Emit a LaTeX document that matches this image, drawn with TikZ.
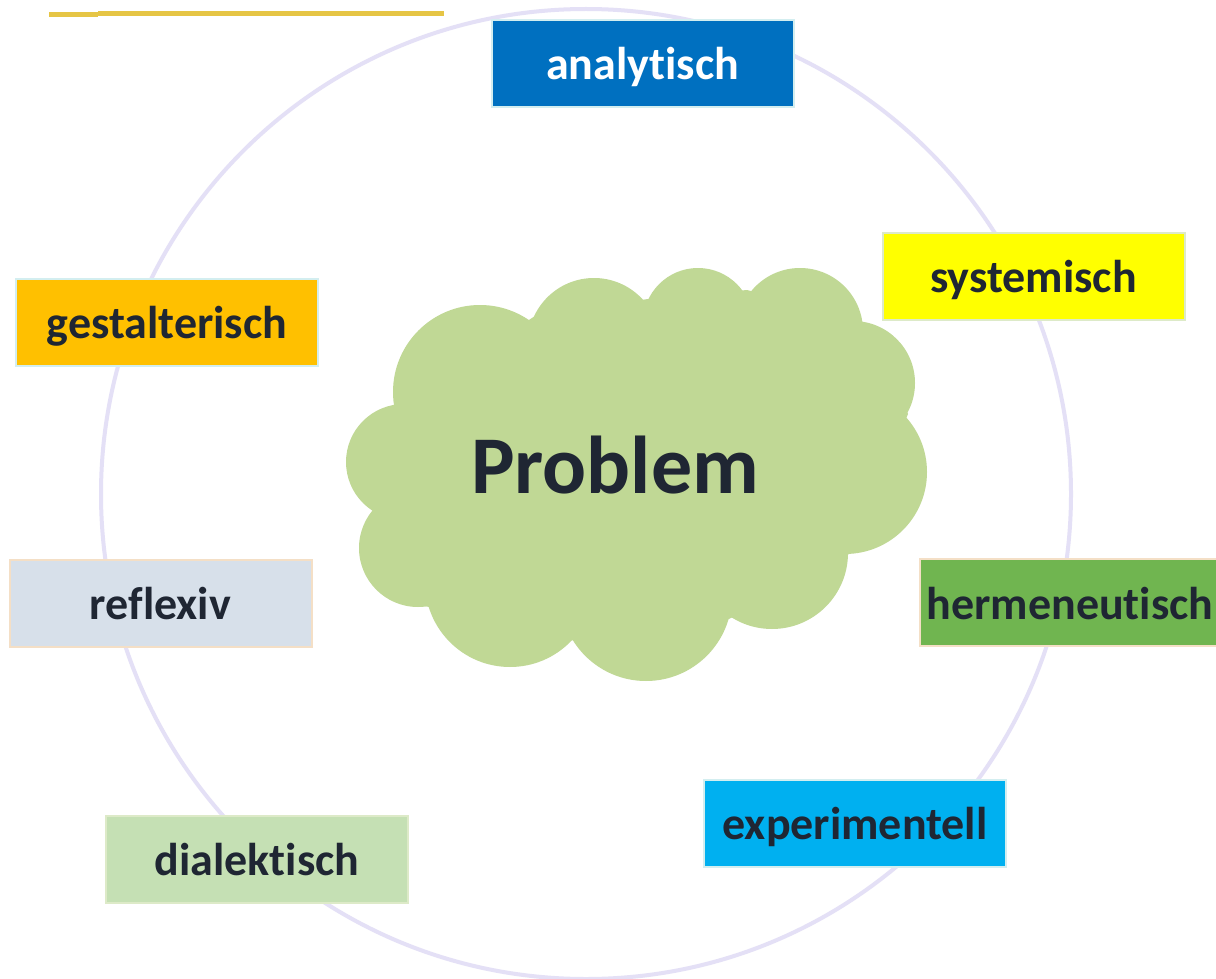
\documentclass[tikz,border=0pt]{standalone}
\usepackage{fontspec}
\setmainfont{Carlito}[Ligatures={NoCommon,NoRare,NoDiscretionary,NoContextual}]
\definecolor{txt}{HTML}{1F2633}
\definecolor{ring}{HTML}{E4E0F6}
\definecolor{gold}{HTML}{E6C545}
\definecolor{cloudc}{HTML}{C0D895}
\definecolor{cBlue}{HTML}{0070C0}
\definecolor{cYellow}{HTML}{FFFF00}
\definecolor{cOrange}{HTML}{FFC000}
\definecolor{cGrey}{HTML}{D7E0EA}
\definecolor{cGreen}{HTML}{70B550}
\definecolor{cCyan}{HTML}{00B0F0}
\definecolor{cLight}{HTML}{C5E0B4}
\definecolor{bCyan}{HTML}{D3EEF0}
\definecolor{bGreen}{HTML}{DDEAC8}
\definecolor{bPeach}{HTML}{F4DFC6}
\tikzset{
  mbox/.style={rectangle, minimum width=151pt, minimum height=43.5pt, inner sep=0pt,
    line width=1pt, font=\fontsize{23}{26}\selectfont\bfseries, text=txt},
  lbl/.style={anchor=base, inner sep=0pt, font=\fontsize{23}{26}\selectfont\bfseries, text=txt},
}
\begin{document}
\begin{tikzpicture}[x=0.5pt,y=-0.5pt]
\useasboundingbox (0,0) rectangle (1216,979);
\fill[white] (0,0) rectangle (1216,979);
% decorative line
\draw[gold, line width=2.5pt] (49,15) -- (98,15);
\draw[gold, line width=2.5pt] (98,13.5) -- (444,13.5);
% ring
\draw[ring, line width=2pt] (586,494) circle[radius=242.5pt];
% cloud
\fill[cloudc] (535,316) -- (648,299) -- (747,290) -- (860,320) -- (908,414) -- (849,554)
  -- (729,619) -- (567,641) -- (425,606) -- (375,512) -- (399,405) -- cycle;
\fill[cloudc] (480,392) circle[radius=43.5pt];
\fill[cloudc] (594,344) circle[radius=33pt];
\fill[cloudc] (698,323) circle[radius=27.5pt];
\fill[cloudc] (800,331) circle[radius=31.5pt];
\fill[cloudc] (853,383) circle[radius=31pt];
\fill[cloudc] (845,472) circle[radius=41pt];
\fill[cloudc] (772,553) circle[radius=38pt];
\fill[cloudc] (646,595) circle[radius=43pt];
\fill[cloudc] (510,582) circle[radius=42.5pt];
\fill[cloudc] (418,548) circle[radius=29.5pt];
\fill[cloudc] (404,462) circle[radius=29pt];
\node[anchor=base, text=txt, font=\fontsize{41}{46}\selectfont\bfseries, inner sep=0pt] (problem) at (615,493) {Problem};
% boxes
\node[mbox, fill=cBlue, draw=bCyan] (analytisch) at (642.5,64) {};
\node[lbl, text=white] (analytischT) at (642.5,80) {analytisch};
\node[mbox, fill=cYellow, draw=bGreen] (systemisch) at (1033.5,276.5) {};
\node[lbl] (systemischT) at (1033.5,292) {systemisch};
\node[mbox, fill=cOrange, draw=bCyan] (gestalterisch) at (167,322.5) {};
\node[lbl] (gestalterischT) at (167,338) {gestalterisch};
\node[mbox, fill=cGrey, draw=bPeach] (reflexiv) at (160.5,603) {};
\node[lbl] (reflexivT) at (160.5,619) {reflexiv};
\node[mbox, fill=cGreen, draw=bPeach] (hermeneutisch) at (1071,602.5) {};
\node[lbl] (hermeneutischT) at (1070,619) {hermeneutisch};
\node[mbox, fill=cCyan, draw=bCyan] (experimentell) at (855,823) {};
\node[lbl] (experimentellT) at (855,839) {experimentell};
\node[mbox, fill=cLight, draw=bGreen] (dialektisch) at (257,859) {};
\node[lbl] (dialektischT) at (257,875) {dialektisch};
\end{tikzpicture}
\end{document}
